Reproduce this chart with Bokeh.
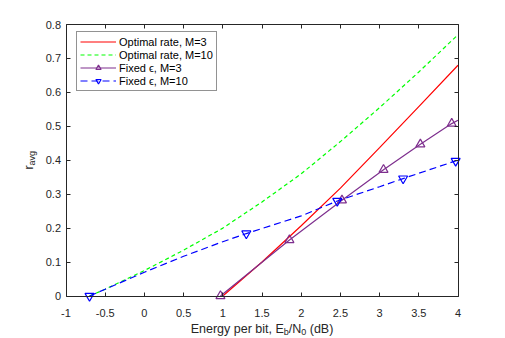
import math
from bokeh.plotting import figure
from bokeh.models import (LinearAxis, FixedTicker, Legend, LegendItem, Label)
from bokeh.embed import file_html
from bokeh.resources import INLINE

# ---------------- data ----------------
opt3_x = [1.0, 1.5, 2.0, 2.5, 3.0, 3.5, 4.0]
opt3_y = [0.0, 0.100, 0.207, 0.318, 0.437, 0.558, 0.680]

opt10_x = [-0.7, -0.5, 0.0, 0.5, 1.0, 1.5, 2.0, 2.5, 3.0, 3.5, 4.0]
opt10_y = [0.0, 0.020, 0.075, 0.135, 0.200, 0.277, 0.360, 0.455, 0.555, 0.660, 0.770]

fix3_x = [0.97, 1.85, 2.52, 3.05, 3.52, 3.92, 4.0]
fix3_y = [0.0, 0.165, 0.282, 0.372, 0.447, 0.508, 0.518]
fix3_mx = [0.97, 1.85, 2.52, 3.05, 3.52, 3.92]
fix3_my = [0.0, 0.165, 0.282, 0.372, 0.447, 0.508]

fix10_x = [-0.7, -0.5, 0.0, 0.5, 1.0, 1.3, 2.0, 2.46, 3.0, 3.3, 3.97, 4.0]
fix10_y = [0.0, 0.020, 0.070, 0.117, 0.160, 0.184, 0.236, 0.280, 0.322, 0.346, 0.398, 0.400]
fix10_mx = [-0.7, 1.3, 2.46, 3.3, 3.97]
fix10_my = [0.0, 0.184, 0.280, 0.346, 0.398]

x_ticks = [-1, -0.5, 0, 0.5, 1, 1.5, 2, 2.5, 3, 3.5, 4]
x_tick_labels = ["-1", "-0.5", "0", "0.5", "1", "1.5", "2", "2.5", "3", "3.5", "4"]
y_ticks = [0, 0.1, 0.2, 0.3, 0.4, 0.5, 0.6, 0.7, 0.8]
y_tick_labels = ["0", "0.1", "0.2", "0.3", "0.4", "0.5", "0.6", "0.7", "0.8"]

legend_labels = ["Optimal rate, M=3", "Optimal rate, M=10",
                 "Fixed \u03f5, M=3", "Fixed \u03f5, M=10"]

# ---------------- layout (pixels) ----------------
W, H = 505, 338
BOX_L, BOX_R, BOX_T, BOX_B = 65.5, 457.5, 24.0, 295.5   # axes box in canvas px

x0, x1 = x_ticks[0], x_ticks[-1]
y0, y1 = y_ticks[0], y_ticks[-1]
sx = (x1 - x0) / (BOX_R - BOX_L)
sy = (y1 - y0) / (BOX_B - BOX_T)
xr = (x0 - BOX_L * sx, x1 + (W - BOX_R) * sx)
yr = (y0 - (H - BOX_B) * sy, y1 + BOX_T * sy)

FONT = "Liberation Sans"
AX = "#262626"
RED, GREEN, PURPLE, BLUE = "#FF0000", "#00FF00", "#7E2F8E", "#0000FF"

p = figure(width=W, height=H, x_range=xr, y_range=yr,
           output_backend="svg", toolbar_location=None,
           min_border=0, x_axis_location=None, y_axis_location=None)
p.xgrid.visible = False
p.ygrid.visible = False
p.outline_line_color = None
p.background_fill_color = "white"
p.border_fill_color = "white"


def style_axis(ax, ticks, labels, show, loc, bounds):
    ax.ticker = FixedTicker(ticks=ticks)
    ax.fixed_location = loc
    ax.bounds = bounds
    ax.axis_line_color = AX
    ax.axis_line_width = 1
    ax.major_tick_line_color = AX
    ax.major_tick_line_width = 1
    ax.major_tick_in = 4
    ax.major_tick_out = 0
    ax.minor_tick_in = 0
    ax.minor_tick_out = 0
    if show:
        ax.major_label_overrides = {t: l for t, l in zip(ticks, labels)}
        ax.major_label_text_font = FONT
        ax.major_label_text_font_size = "11px"
        ax.major_label_text_color = AX
    else:
        ax.major_label_overrides = {t: "" for t in ticks}
        ax.major_label_text_font_size = "0px"
        ax.major_label_standoff = 0


xb = LinearAxis(); style_axis(xb, x_ticks, x_tick_labels, True, y0, (x0, x1))
xb.major_label_standoff = 13
yl = LinearAxis(); style_axis(yl, y_ticks, y_tick_labels, True, x0, (y0, y1))
yl.major_label_standoff = 5
xt = LinearAxis(); style_axis(xt, x_ticks, x_tick_labels, False, y1, (x0, x1))
yrr = LinearAxis(); style_axis(yrr, y_ticks, y_tick_labels, False, x1, (y0, y1))
p.add_layout(xb, "below")
p.add_layout(yl, "left")
p.add_layout(xt, "above")
p.add_layout(yrr, "right")

# ---------------- series ----------------
r1 = p.line(opt3_x, opt3_y, line_color=RED, line_width=1.2)
r2 = p.line(opt10_x, opt10_y, line_color=GREEN, line_width=1.2, line_dash="4 3")
r3 = p.line(fix3_x, fix3_y, line_color=PURPLE, line_width=1.2)
r3m = p.scatter(fix3_mx, fix3_my, marker="triangle", size=9,
                line_color=PURPLE, fill_color=None, line_width=1.2)
r4 = p.line(fix10_x, fix10_y, line_color=BLUE, line_width=1.2, line_dash="7 4")
r4m = p.scatter(fix10_mx, fix10_my, marker="inverted_triangle", size=9,
                line_color=BLUE, fill_color=None, line_width=1.2)

legend = Legend(items=[
    LegendItem(label=legend_labels[0], renderers=[r1]),
    LegendItem(label=legend_labels[1], renderers=[r2]),
    LegendItem(label=legend_labels[2], renderers=[r3, r3m]),
    LegendItem(label=legend_labels[3], renderers=[r4, r4m]),
], location=(76, H - 91))
legend.label_text_font = FONT
legend.label_text_font_size = "11px"
legend.label_text_color = "#000000"
legend.padding = 3
legend.spacing = 0
legend.margin = 0
legend.glyph_width = 36
legend.glyph_height = 13
legend.label_height = 13
legend.label_standoff = 3
legend.border_line_color = AX
legend.border_line_width = 0.8
legend.background_fill_color = "white"
legend.background_fill_alpha = 1
p.add_layout(legend)

# ---------------- axis labels with subscripts ----------------
ARIAL = {'E': 667, 'n': 556, 'e': 556, 'r': 333, 'g': 556, 'y': 500, ' ': 278,
         'p': 556, 'b': 556, 'i': 222, 't': 278, ',': 278, '/': 278, 'N': 722,
         '(': 333, 'd': 556, 'B': 667, ')': 333, '0': 556, 'a': 556, 'v': 500}


def tw(s, size):
    return sum(ARIAL.get(c, 556) for c in s) * size / 1000.0


MAIN, SUB, DROP = 12.5, 9, 3


def lab(text, size, x, y, xo, yo, angle=0.0):
    p.add_layout(Label(x=x, y=y, x_offset=xo, y_offset=yo, text=text,
                       text_font=FONT, text_font_size=f"{size}px",
                       text_color=AX, angle=angle,
                       text_align="left", text_baseline="alphabetic"))


# x label: "Energy per bit, E_b/N_0 (dB)"
pieces = [("Energy per bit, E", MAIN, 0), ("b", SUB, DROP), ("/N", MAIN, 0),
          ("0", SUB, DROP), (" (dB)", MAIN, 0)]
total = sum(tw(t, s) for t, s, _ in pieces)
cx = (x0 + x1) / 2
off = -total / 2
for t, s, d in pieces:
    stripped = t.lstrip(" ")
    lead = tw(t[:len(t) - len(stripped)], s)
    lab(stripped, s, cx, y0, off + lead, -33 - d)
    off += tw(t, s)

# y label: "r_avg" rotated
ypieces = [("r", MAIN, 0), ("avg", SUB, DROP)]
ytotal = sum(tw(t, s) for t, s, _ in ypieces)
cy = (y0 + y1) / 2
off = -ytotal / 2
for t, s, d in ypieces:
    lab(t, s, x0, cy, -37.5 + d, off, angle=math.pi / 2)
    off += tw(t, s)

open("out.html", "w").write(file_html(p, INLINE))
